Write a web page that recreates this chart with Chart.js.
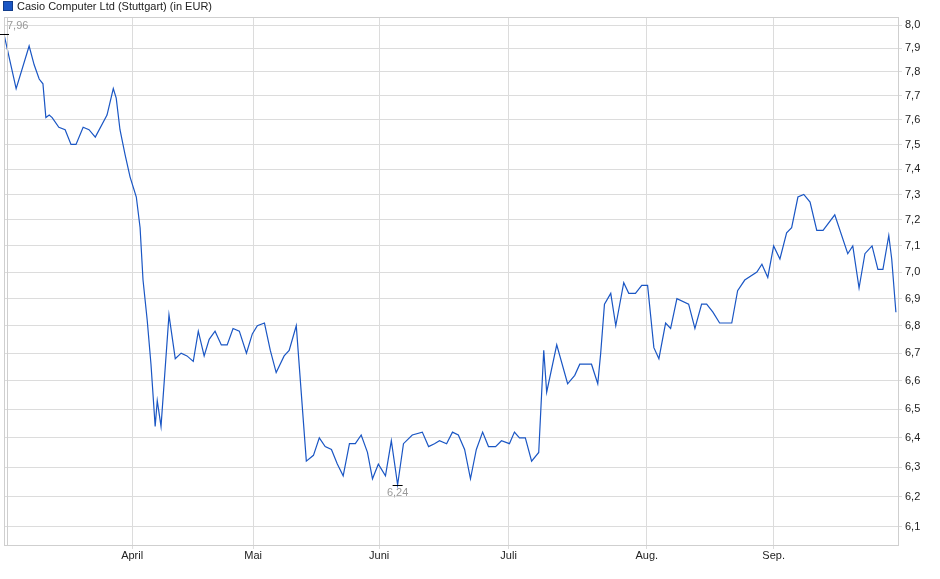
<!DOCTYPE html>
<html>
<head>
<meta charset="utf-8">
<script src="https://cdn.jsdelivr.net/npm/chart.js@4"></script>
<style>
  body { margin: 0; background: #fff; }
  #wrap { position: relative; width: 940px; height: 579px; }
  #legend { position: absolute; left: 3px; top: 0px; font: 11px "Liberation Sans", Arial, sans-serif; color: #222; line-height: 13px; }
  #legend span.box { display: inline-block; width: 8px; height: 8px; background: #1a56c4; border: 1px solid #123c8a; margin-right: 4px; vertical-align: -1px; }
</style>
</head>
<body>
<div id="wrap">
  <canvas id="chart" width="940" height="579"></canvas>
  <div id="legend"><span class="box"></span>Casio Computer Ltd (Stuttgart) (in EUR)</div>
</div>
<script>
// calendar days since 1 March
const days = [0.0,2.9,6.0,7.2,8.4,9.3,10.0,10.8,11.5,13.1,14.6,16.0,17.2,18.9,20.3,21.8,24.6,26.1,26.8,27.7,28.9,30.1,31.6,32.5,33.2,34.2,35.1,36.1,36.6,37.5,39.4,40.9,42.3,43.7,45.2,46.4,47.8,49.0,50.4,51.9,53.3,54.7,56.2,57.9,59.3,60.5,62.2,63.6,65.0,66.9,68.1,69.8,72.2,73.9,75.3,76.7,78.2,79.6,81.0,82.5,83.9,85.3,86.8,88.0,89.4,91.1,92.5,94.0,95.4,97.5,99.9,101.4,102.8,104.0,105.7,107.1,108.5,110.0,111.4,112.8,114.3,115.7,117.4,118.8,120.7,121.9,123.1,124.5,126.0,127.7,128.9,129.6,132.0,134.6,136.3,137.5,140.3,141.8,142.5,143.4,144.9,146.1,148.0,149.2,150.8,152.3,153.7,155.2,156.4,158.0,159.2,160.7,163.5,165.0,166.6,167.8,169.3,170.9,173.8,175.2,176.9,179.8,181.0,182.4,183.8,185.3,186.9,188.1,189.6,191.0,192.5,194.1,195.6,198.4,201.5,202.7,204.2,205.6,207.3,208.7,209.9,211.3,212.0,213.0];
const prices = [7.96,7.73,7.91,7.83,7.77,7.75,7.61,7.62,7.61,7.57,7.56,7.50,7.50,7.57,7.56,7.53,7.62,7.73,7.69,7.56,7.46,7.37,7.29,7.17,6.97,6.82,6.66,6.44,6.53,6.44,6.84,6.68,6.70,6.69,6.67,6.78,6.69,6.75,6.78,6.73,6.73,6.79,6.78,6.70,6.77,6.80,6.81,6.71,6.63,6.69,6.71,6.80,6.32,6.34,6.40,6.37,6.36,6.31,6.27,6.38,6.38,6.41,6.35,6.26,6.31,6.27,6.39,6.24,6.38,6.41,6.42,6.37,6.38,6.39,6.38,6.42,6.41,6.36,6.26,6.36,6.42,6.37,6.37,6.39,6.38,6.42,6.40,6.40,6.32,6.35,6.71,6.56,6.73,6.59,6.62,6.66,6.66,6.59,6.70,6.88,6.92,6.80,6.96,6.92,6.92,6.95,6.95,6.72,6.68,6.81,6.79,6.90,6.88,6.79,6.88,6.88,6.85,6.81,6.81,6.93,6.97,7.00,7.03,6.98,7.10,7.05,7.15,7.17,7.29,7.30,7.27,7.16,7.16,7.22,7.07,7.10,6.94,7.07,7.10,7.01,7.01,7.14,7.05,6.85];
const monthDays = [30.6,59.5,89.6,120.5,153.5,183.8];
const monthLabels = ['April','Mai','Juni','Juli','Aug.','Sep.'];
const yTicks = [6.1,6.2,6.3,6.4,6.5,6.6,6.7,6.8,6.9,7.0,7.1,7.2,7.3,7.4,7.5,7.6,7.7,7.8,7.9,8.0];

const FONT = { family: '"Liberation Sans", Arial, sans-serif', size: 11 };
const fmt = v => v.toFixed(2).replace('.', ',');

// plot frame + high/low markers
const extras = {
    id: 'extras',
    afterDatasetsDraw(chart) {
        const { ctx, chartArea: a, scales: { x, y } } = chart;
        ctx.save();
        ctx.strokeStyle = '#cfcfcf';
        ctx.lineWidth = 1;
        ctx.strokeRect(a.left + 0.5, a.top + 0.5, a.right - a.left, a.bottom - a.top);
        ctx.beginPath();
        ctx.moveTo(a.left + 3.5, a.top); ctx.lineTo(a.left + 3.5, a.bottom);
        ctx.stroke();

        let hi = 0, lo = 0;
        prices.forEach((p, i) => { if (p > prices[hi]) hi = i; if (p < prices[lo]) lo = i; });
        ctx.font = '11px "Liberation Sans", Arial, sans-serif';
        ctx.fillStyle = '#9a9a9a';
        ctx.strokeStyle = '#000';
        [[hi, -1], [lo, 1]].forEach(([i, dir]) => {
            const px = x.getPixelForValue(days[i]);
            const py = y.getPixelForValue(prices[i]);
            ctx.beginPath();
            ctx.moveTo(px - 5, Math.round(py) + 0.5); ctx.lineTo(px + 5, Math.round(py) + 0.5);
            ctx.stroke();
            ctx.textAlign = i === 0 ? 'left' : 'center';
            ctx.textBaseline = dir < 0 ? 'bottom' : 'top';
            ctx.fillText(fmt(prices[i]), i === 0 ? px + 3 : px, py + dir * 3);
        });
        ctx.restore();
    }
};

new Chart(document.getElementById('chart'), {
    type: 'line',
    data: {
        datasets: [{
            data: days.map((d, i) => ({ x: d, y: prices[i] })),
            borderColor: '#1a56c4',
            borderWidth: 1.2,
            pointRadius: 0,
            tension: 0,
            fill: false
        }]
    },
    options: {
        responsive: false,
        animation: false,
        layout: { padding: { top: 17, left: 4, right: 0, bottom: 0 } },
        plugins: { legend: { display: false }, tooltip: { enabled: false } },
        scales: {
            x: {
                type: 'linear',
                min: 0,
                max: 213.5,
                afterBuildTicks: s => { s.ticks = monthDays.map(v => ({ value: v })); },
                afterFit: s => { s.height = 34; },
                grid: { color: '#dcdcdc', drawTicks: true, tickLength: 4 },
                border: { display: false },
                ticks: {
                    font: FONT, color: '#222', maxRotation: 0, autoSkip: false, padding: 0,
                    callback: v => monthLabels[monthDays.indexOf(v)]
                }
            },
            y: {
                type: 'logarithmic',
                position: 'right',
                min: 6.04,
                max: 8.035,
                afterBuildTicks: s => { s.ticks = yTicks.map(v => ({ value: v })); },
                afterFit: s => { s.width = 42; },
                grid: { color: '#dcdcdc', tickLength: 4 },
                border: { display: false },
                ticks: {
                    font: FONT, color: '#222', padding: 3,
                    callback: v => v.toFixed(1).replace('.', ',')
                }
            }
        }
    },
    plugins: [extras]
});
</script>
</body>
</html>
